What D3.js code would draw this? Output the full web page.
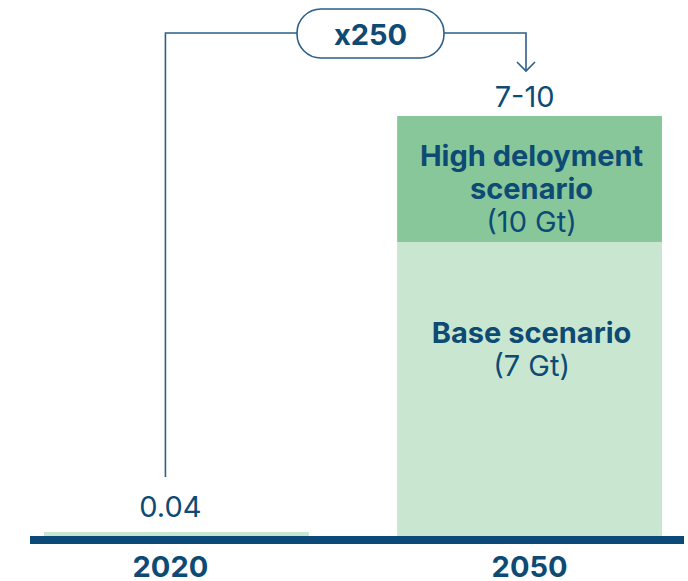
<!DOCTYPE html>
<html>
<head>
<meta charset="utf-8">
<script src="https://cdn.jsdelivr.net/npm/d3@7"></script>
<style>
  body { margin: 0; background: #fff; }
  svg { display: block; font-family: Inter, "Open Sans", sans-serif; }
  .lbl { fill: #0d4a74; }
</style>
</head>
<body>
<svg id="chart" width="688" height="581"></svg>
<script>
// data
const years = ['2020', '2050'];
const baseValues = [0.04, 7];      // Gt
const highValues = [0, 10];        // Gt (total, high deployment)
const valueLabels = ['0.04', '7-10'];
const multiplier = 'x250';
const baseText = ['Base scenario', '(7 Gt)'];
const highText = ['High deloyment', 'scenario', '(10 Gt)'];

const navy = '#0d4a74',
    lineCol = '#2c5f8a',
    lightGreen = '#c9e6d1',
    darkGreen = '#88c79a';

const svg = d3.select('#chart');
const baseY = 536;

const x = d3.scaleBand()
    .domain(years)
    .range([44, 662])
    .paddingInner(0.25)
    .paddingOuter(0);

const y = d3.scaleLinear()
    .domain([0, 10])
    .range([baseY, 116]);

// high scenario (stacked on top of base)
svg.selectAll('rect.high')
    .data(years.map((d, i) => ({year: d, base: baseValues[i], high: highValues[i]})).filter(d => d.high > d.base))
    .enter()
        .append('rect')
        .attr('class', 'high')
        .attr('x', d => x(d.year))
        .attr('width', x.bandwidth())
        .attr('y', d => y(d.high))
        .attr('height', d => y(d.base) - y(d.high))
        .attr('fill', darkGreen);

// base
svg.selectAll('rect.base')
    .data(years.map((d, i) => ({year: d, v: baseValues[i]})))
    .enter()
        .append('rect')
        .attr('class', 'base')
        .attr('x', d => x(d.year))
        .attr('width', x.bandwidth())
        .attr('y', d => Math.min(y(d.v), baseY - 4)) // keep tiny value visible
        .attr('height', d => Math.max(baseY - y(d.v), 4))
        .attr('fill', lightGreen);

// baseline axis
svg.append('line')
    .attr('x1', 30).attr('x2', 684)
    .attr('y1', baseY + 4).attr('y2', baseY + 4)
    .attr('stroke', '#0b4a78')
    .attr('stroke-width', 8);

// year labels
svg.selectAll('text.year')
    .data(years)
    .enter()
        .append('text')
        .attr('class', 'lbl year')
        .attr('x', d => x(d) + x.bandwidth() / 2 - (d === '2020' ? 6 : 0))
        .attr('y', 577)
        .attr('text-anchor', 'middle')
        .attr('font-size', 29)
        .attr('font-weight', 700)
        .text(d => d);

// value labels
let c0 = x(years[0]) + x.bandwidth() / 2 - 6,
    c1 = x(years[1]) + x.bandwidth() / 2;

svg.append('text')
    .attr('class', 'lbl')
    .attr('x', c0).attr('y', 517)
    .attr('text-anchor', 'middle')
    .attr('font-size', 29)
    .text(valueLabels[0]);

svg.append('text')
    .attr('class', 'lbl')
    .attr('x', c1 - 5).attr('y', 107)
    .attr('text-anchor', 'middle')
    .attr('font-size', 29)
    .text(valueLabels[1]);

// text inside 2050 bar
const addLines = (lines, startY, bold) => {
    lines.forEach((t, i) => {
        svg.append('text')
            .attr('class', 'lbl')
            .attr('x', c1 + 2)
            .attr('y', startY + i * 33)
            .attr('text-anchor', 'middle')
            .attr('font-size', 29)
            .attr('font-weight', bold(i) ? 700 : 400)
            .text(t);
    });
};
addLines(highText, 166, i => i < 2);
addLines(baseText, 343, i => i < 1);

// connector with multiplier pill
let lineY = 33,
    pill = {x0: 297, x1: 444, y0: 9, y1: 58},
    arrowX = 526;

svg.append('path')
    .attr('d', `M ${c0 - 5} 477 L ${c0 - 5} ${lineY} L ${pill.x0} ${lineY} M ${pill.x1} ${lineY} L ${arrowX} ${lineY} L ${arrowX} 71`)
    .attr('fill', 'none')
    .attr('stroke', lineCol)
    .attr('stroke-width', 1.6);

svg.append('path')
    .attr('d', `M ${arrowX - 9} 62 L ${arrowX} 71 L ${arrowX + 9} 62`)
    .attr('fill', 'none')
    .attr('stroke', lineCol)
    .attr('stroke-width', 1.6);

svg.append('rect')
    .attr('x', pill.x0).attr('y', pill.y0)
    .attr('width', pill.x1 - pill.x0)
    .attr('height', pill.y1 - pill.y0)
    .attr('rx', 24)
    .attr('fill', '#fff')
    .attr('stroke', lineCol)
    .attr('stroke-width', 1.6);

svg.append('text')
    .attr('class', 'lbl')
    .attr('x', (pill.x0 + pill.x1) / 2)
    .attr('y', 45)
    .attr('text-anchor', 'middle')
    .attr('font-size', 29)
    .attr('font-weight', 700)
    .text(multiplier);
</script>
</body>
</html>
